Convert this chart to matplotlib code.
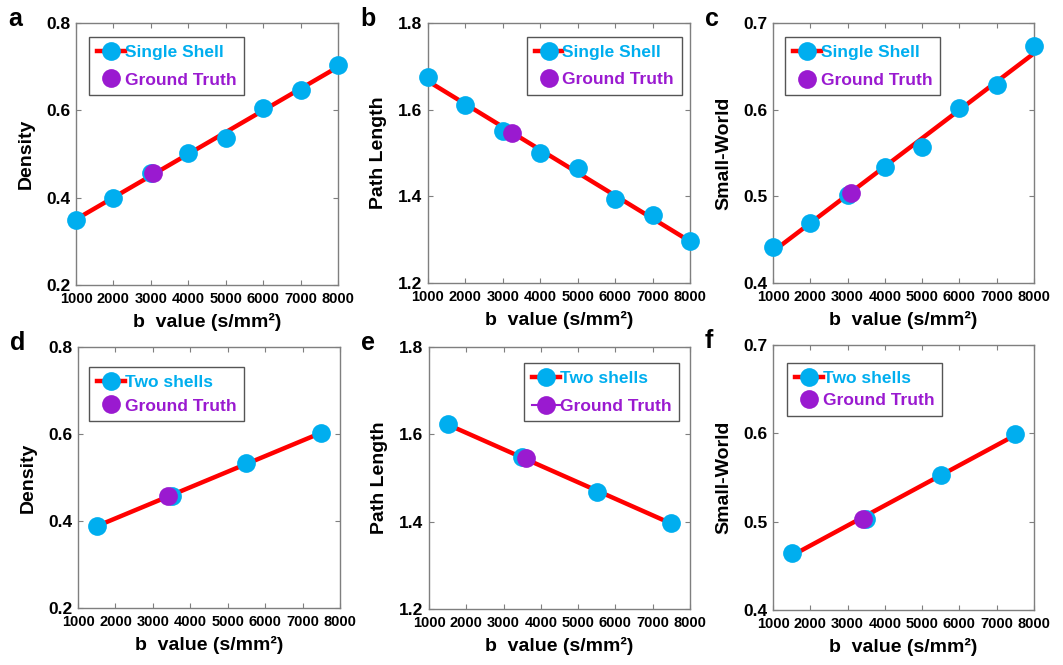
import numpy as np
import matplotlib
matplotlib.use('Agg')
import matplotlib.pyplot as plt
from matplotlib.lines import Line2D

plt.rcParams['font.family'] = ['Liberation Sans', 'DejaVu Sans']
plt.rcParams['font.weight'] = 'bold'

# b values (s/mm^2)
b_single = [1000, 2000, 3000, 4000, 5000, 6000, 7000, 8000]
b_two = [1500, 3500, 5500, 7500]

# single shell metrics
density_single = [0.350, 0.400, 0.456, 0.503, 0.536, 0.605, 0.646, 0.704]
path_single = [1.676, 1.611, 1.550, 1.499, 1.466, 1.394, 1.356, 1.296]
small_single = [0.441, 0.469, 0.502, 0.534, 0.557, 0.602, 0.628, 0.673]

# two shell metrics
density_two = [0.389, 0.457, 0.534, 0.602]
path_two = [1.623, 1.548, 1.467, 1.398]
small_two = [0.464, 0.503, 0.553, 0.599]

# ground truth (b position, value)
gt_single_b = [3070, 3240, 3100]
gt_single_val = [0.457, 1.546, 0.5035]
gt_two_b = [3410, 3600, 3420]
gt_two_val = [0.457, 1.546, 0.503]

blue = '#00AEEF'
purple = '#9A1AD0'
red = '#FF0000'
spine_gray = '#7F7F7F'

fig = plt.figure(figsize=(10.63, 6.65), dpi=100)

panels = [
    # letter, rect, b, values, gt_b, gt_val, ylabel, ylim, yticks, series label, legend loc, anchor, spacing
    ('a', [0.0715, 0.5714, 0.2465, 0.394], b_single, density_single, gt_single_b[0], gt_single_val[0],
     'Density', (0.2, 0.8), [0.2, 0.4, 0.6, 0.8], 'Single Shell', 'upper left', (0.05, 0.947), 0.72),
    ('b', [0.4026, 0.5744, 0.2465, 0.391], b_single, path_single, gt_single_b[1], gt_single_val[1],
     'Path Length', (1.2, 1.8), [1.2, 1.4, 1.6, 1.8], 'Single Shell', 'upper right', (0.969, 0.947), 0.72),
    ('c', [0.7272, 0.5744, 0.2455, 0.391], b_single, small_single, gt_single_b[2], gt_single_val[2],
     'Small-World', (0.4, 0.7), [0.4, 0.5, 0.6, 0.7], 'Single Shell', 'upper left', (0.046, 0.946), 0.72),
    ('d', [0.0734, 0.0857, 0.2465, 0.3925], b_two, density_two, gt_two_b[0], gt_two_val[0],
     'Density', (0.2, 0.8), [0.2, 0.4, 0.6, 0.8], 'Two shells', 'upper left', (0.042, 0.923), 0.48),
    ('e', [0.4036, 0.0842, 0.2455, 0.394], b_two, path_two, gt_two_b[1], gt_two_val[1],
     'Path Length', (1.2, 1.8), [1.2, 1.4, 1.6, 1.8], 'Two shells', 'upper right', (0.958, 0.939), 0.72),
    ('f', [0.7272, 0.0827, 0.2455, 0.3985], b_two, small_two, gt_two_b[2], gt_two_val[2],
     'Small-World', (0.4, 0.7), [0.4, 0.5, 0.6, 0.7], 'Two shells', 'upper left', (0.054, 0.932), 0.42),
]

ms = 13.5
for (letter, rect, bx, vals, gb, gv, ylab, ylim, yticks, lab, loc, anchor, spacing) in panels:
    ax = fig.add_axes(rect)
    bx = np.array(bx, dtype=float)
    vals = np.array(vals)
    # linear fit through the measured points
    k, c0 = np.polyfit(bx, vals, 1)
    xx = np.array([bx.min(), bx.max()])
    ax.plot(xx, k * xx + c0, color=red, lw=3.2, zorder=2, solid_capstyle='butt')
    ax.plot(bx, vals, 'o', color=blue, ms=ms, mec='none', zorder=3, clip_on=False)
    ax.plot([gb], [gv], 'o', color=purple, ms=ms, mec='none', zorder=4)

    ax.set_xlim(1000, 8000)
    ax.set_ylim(*ylim)
    ax.set_xticks(range(1000, 9000, 1000))
    ax.set_yticks(yticks)
    ax.set_yticklabels(['%.1f' % t for t in yticks])
    ax.tick_params(axis='x', labelsize=10.5, direction='in', top=True, length=3.5,
                   color=spine_gray, pad=5)
    ax.tick_params(axis='y', labelsize=12.5, direction='in', right=True, length=3.5,
                   color=spine_gray, pad=4)
    for lbl in ax.get_xticklabels() + ax.get_yticklabels():
        lbl.set_fontweight('bold')
    for sp in ax.spines.values():
        sp.set_color(spine_gray)
        sp.set_linewidth(1.0)

    ax.set_xlabel('b  value (s/mm²)', fontsize=14, fontweight='bold', labelpad=5)
    ax.set_ylabel(ylab, fontsize=14, fontweight='bold', labelpad=8)

    gt_line = '-' if letter == 'e' else 'none'
    handles = [
        Line2D([], [], color=red, lw=3.2, marker='o', ms=ms, mfc=blue, mec='none'),
        Line2D([], [], color=purple, lw=1.5, ls=gt_line, marker='o', ms=ms, mfc=purple, mec='none'),
    ]
    leg = ax.legend(handles, [lab, 'Ground Truth'], loc=loc, bbox_to_anchor=anchor,
                    borderaxespad=0, fancybox=False, framealpha=1, edgecolor='#555555',
                    prop={'size': 12.5, 'weight': 'bold'}, handlelength=1.6, handletextpad=0.0,
                    labelspacing=spacing, borderpad=0.45, numpoints=1)
    leg.get_frame().set_linewidth(1.0)
    for txt, col in zip(leg.get_texts(), [blue, purple]):
        txt.set_color(col)

    fig.text(rect[0] - 0.064, rect[1] + rect[3] - 0.004, letter, fontsize=18,
             fontweight='bold', ha='left', va='baseline')

fig.savefig('out.png', dpi=100)
